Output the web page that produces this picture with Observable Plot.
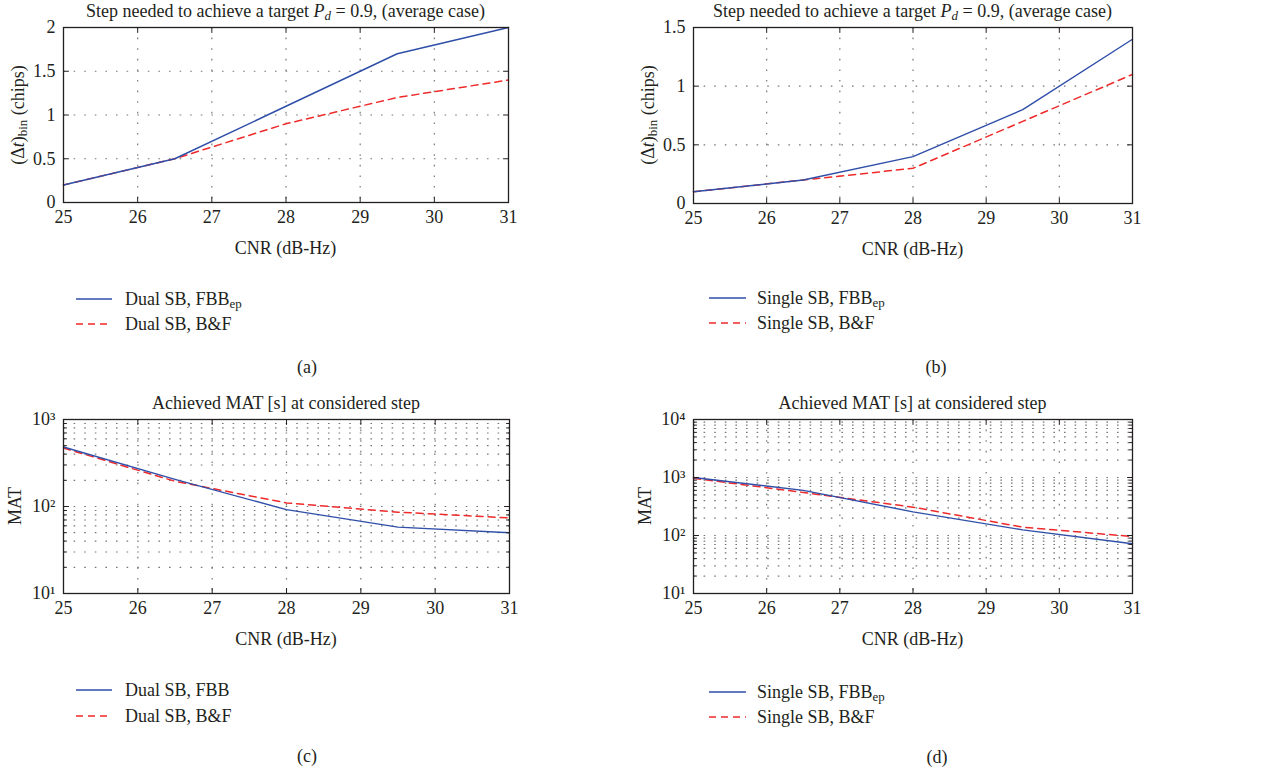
<!DOCTYPE html>
<html><head><meta charset="utf-8">
<script src="https://cdn.jsdelivr.net/npm/d3@7"></script>
<script src="https://cdn.jsdelivr.net/npm/@observablehq/plot@0.6"></script>
<style>
body{margin:0;background:#fff;}
#root{position:relative;width:1261px;height:771px;font-family:"Liberation Serif",serif;color:#231f20;font-size:18px;overflow:hidden;}
.abs{position:absolute;white-space:nowrap;line-height:1;}
.c{transform:translate(-50%,-50%);}
.yl{transform:translate(-50%,-50%) rotate(-90deg);}
.lg{transform:translateY(-50%);display:flex;align-items:center;}
sub{font-size:0.72em;vertical-align:-0.25em;line-height:0;}
svg.panel{position:absolute;}
svg.panel, svg.panel text{font-family:"Liberation Serif",serif !important;}
</style></head><body><div id="root"></div><script>
// ---- data ----
const cnr = [25, 26.5, 28, 29.5, 31];
const xTicks = [25, 26, 27, 28, 29, 30, 31];
const aFBB = [0.2, 0.5, 1.1, 1.7, 2.0];
const aBF  = [0.2, 0.5, 0.9, 1.2, 1.4];
const bFBB = [0.1, 0.2, 0.4, 0.8, 1.4];
const bBF  = [0.1, 0.2, 0.3, 0.7, 1.1];
const cFBB = [483, 205, 92, 58, 50];
const cBF  = [470, 195, 110, 86, 74];
const dFBB = [1000, 600, 256, 125, 72];
const dBF  = [970, 552, 308, 139, 96];
const aYTicks = [0, 0.5, 1, 1.5, 2];
const bYTicks = [0, 0.5, 1, 1.5];
const cYTicks = [10, 100, 1000];
const dYTicks = [10, 100, 1000, 10000];
const titleTop = 'Step needed to achieve a target <i>P<sub>d</sub></i> = 0.9, (average case)';
const titleBottom = 'Achieved MAT [s] at considered step';
const xLabel = 'CNR (dB-Hz)';
const yLabelTop = '(Δ<i>t</i>)<sub>bin</sub> (chips)';
const yLabelBottom = 'MAT';
const legA = ['Dual SB, FBB<sub>ep</sub>', 'Dual SB, B&amp;F'];
const legB = ['Single SB, FBB<sub>ep</sub>', 'Single SB, B&amp;F'];
const legC = ['Dual SB, FBB', 'Dual SB, B&amp;F'];
const legD = ['Single SB, FBB<sub>ep</sub>', 'Single SB, B&amp;F'];
const captions = ['(a)', '(b)', '(c)', '(d)'];

// ---- style ----
const BLUE = "#2f4ea8", RED = "#ee2a2a", INK = "#231f20", GRID = "#777";
const sup = {1: "¹", 2: "²", 3: "³", 4: "⁴"};
const root = document.getElementById("root");
const tickShape = {draw(ctx, l) { ctx.moveTo(0, 0); ctx.lineTo(0, -l); }};

function minorLog(lo, hi) {
  const out = [];
  for (let e = Math.log10(lo); e < Math.log10(hi); e++)
    for (let m = 1; m <= 9; m++) out.push(m * 10 ** e);
  out.push(hi);
  return out;
}

function panel(p) {
  const rows1 = cnr.map((x, i) => ({x, y: p.s1[i]}));
  const rows2 = cnr.map((x, i) => ({x, y: p.s2[i]}));
  const isLog = p.yType === "log";
  const yGrid = isLog ? minorLog(p.yDomain[0], p.yDomain[1]).filter(v => v > p.yDomain[0] && v < p.yDomain[1])
                      : p.yTicks.filter(v => v > p.yDomain[0] && v < p.yDomain[1]);
  const yMinor = isLog ? minorLog(p.yDomain[0], p.yDomain[1]).filter(v => !p.yTicks.includes(v)) : [];
  const tk = (data, anchor, rot, len, ch) => Plot.vector(data, {
    [ch]: d => d, frameAnchor: anchor, length: len, rotate: rot, anchor: "start",
    shape: tickShape, stroke: INK, strokeWidth: 1
  });
  const svg = Plot.plot({
    width: p.w, height: p.h,
    marginLeft: p.ml, marginRight: p.w - p.fx1, marginTop: p.mt, marginBottom: p.h - p.fy1,
    style: {fontFamily: "'Liberation Serif', serif", fontSize: "18px", color: INK, background: "transparent", overflow: "visible"},
    x: {domain: [25, 31]},
    y: {type: p.yType, domain: p.yDomain},
    marks: [
      Plot.gridX(xTicks.slice(1, -1), {stroke: GRID, strokeOpacity: 1, strokeDasharray: "1.6,9", strokeWidth: 1.2}),
      Plot.gridY(yGrid, {stroke: GRID, strokeOpacity: 1, strokeDasharray: "1.6,9", strokeWidth: 1.2}),
      Plot.line(rows2, {x: "x", y: "y", stroke: RED, strokeWidth: 1.5, strokeDasharray: "7,5"}),
      Plot.line(rows1, {x: "x", y: "y", stroke: BLUE, strokeWidth: 1.4}),
      Plot.frame({stroke: INK, strokeWidth: 1.3}),
      tk(xTicks, "bottom", 0, 5, "x"),
      tk(xTicks, "top", 180, 5, "x"),
      tk(p.yTicks, "left", 90, 5, "y"),
      tk(p.yTicks, "right", -90, 5, "y"),
      ...(isLog ? [tk(yMinor, "left", 90, 3, "y"), tk(yMinor, "right", -90, 3, "y")] : []),
      Plot.axisX(xTicks, {tickSize: 0, tickPadding: 8, fill: INK, label: null}),
      Plot.axisY(p.yTicks, {tickSize: 0, tickPadding: 8, fill: INK, label: null,
        tickFormat: isLog ? (d => "10" + sup[Math.round(Math.log10(d))]) : (d => String(d))})
    ]
  });
  svg.classList.add("panel");
  svg.setAttribute("font-family", "'Liberation Serif', serif");
  svg.style.left = p.left + "px";
  svg.style.top = p.top + "px";
  root.appendChild(svg);

  const fx0 = p.left + p.ml, fx1 = p.left + p.fx1, fyTop = p.top + p.mt, fyBot = p.top + p.fy1;
  const cx = (fx0 + fx1) / 2;
  const add = (html, cls, x, y) => {
    const d = document.createElement("div");
    d.className = "abs " + cls;
    d.style.left = x + "px"; d.style.top = y + "px";
    d.innerHTML = html;
    root.appendChild(d);
    return d;
  };
  add(p.title, "c", cx, fyTop - 16);
  add(xLabel, "c", cx, fyBot + 46);
  add(p.ylabel, "yl", p.left + p.ylx, (fyTop + fyBot) / 2);
  p.leg.forEach((t, i) => {
    const dash = i === 0 ? "" : 'stroke-dasharray="7,5"';
    const col = i === 0 ? BLUE : RED;
    add(`<svg width="${p.legLine}" height="4" style="margin-right:${p.legGap}px"><line x1="0" y1="2" x2="${p.legLine}" y2="2" stroke="${col}" stroke-width="${i === 0 ? 1.4 : 1.5}" ${dash}/></svg><span>${t}</span>`,
      "lg", p.legX, p.legY[i]);
  });
  add(p.cap, "c", p.capX, p.capY);
}

panel({left: 0, top: 0, w: 620, h: 240, ml: 63, fx1: 508, mt: 27, fy1: 202,
  yType: "linear", yDomain: [0, 2], yTicks: aYTicks, s1: aFBB, s2: aBF,
  title: titleTop, ylabel: yLabelTop, ylx: 18, leg: legA, legX: 76, legY: [299, 324], legLine: 36, legGap: 13,
  cap: captions[0], capX: 307, capY: 367});
panel({left: 630, top: 0, w: 631, h: 240, ml: 63, fx1: 502, mt: 27, fy1: 203,
  yType: "linear", yDomain: [0, 1.5], yTicks: bYTicks, s1: bFBB, s2: bBF,
  title: titleTop, ylabel: yLabelTop, ylx: 18, leg: legB, legX: 709, legY: [298, 323], legLine: 37, legGap: 11,
  cap: captions[1], capX: 936, capY: 367});
panel({left: 0, top: 392, w: 620, h: 240, ml: 63, fx1: 509, mt: 27, fy1: 201,
  yType: "log", yDomain: [10, 1000], yTicks: cYTicks, s1: cFBB, s2: cBF,
  title: titleBottom, ylabel: yLabelBottom, ylx: 15, leg: legC, legX: 76, legY: [690, 716], legLine: 36, legGap: 13,
  cap: captions[2], capX: 307, capY: 756});
panel({left: 630, top: 392, w: 631, h: 240, ml: 63, fx1: 502, mt: 27, fy1: 201,
  yType: "log", yDomain: [10, 10000], yTicks: dYTicks, s1: dFBB, s2: dBF,
  title: titleBottom, ylabel: yLabelBottom, ylx: 15, leg: legD, legX: 709, legY: [692, 717], legLine: 37, legGap: 11,
  cap: captions[3], capX: 937, capY: 757});
</script></body></html>
